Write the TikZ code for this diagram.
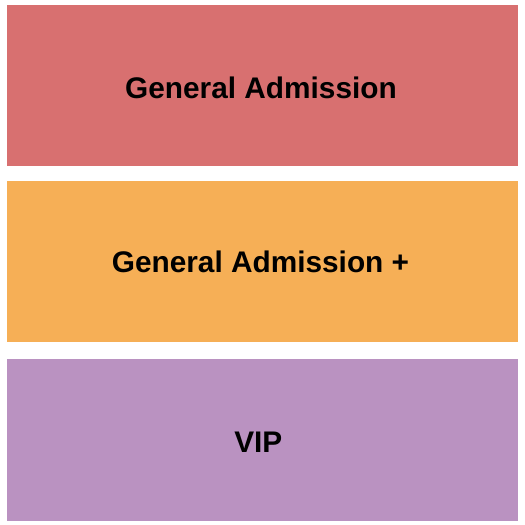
\documentclass[tikz,border=0pt]{standalone}
\usepackage{fontspec}
\setmainfont{Liberation Sans}
\definecolor{gared}{RGB}{216,112,112}
\definecolor{gaplus}{RGB}{246,175,86}
\definecolor{vippurple}{RGB}{186,146,193}
\begin{document}
\begin{tikzpicture}[x=1pt, y=-1pt,
    label/.style={font=\fontsize{29.8}{30}\selectfont\bfseries, text=black, anchor=base, inner sep=0}]
      \useasboundingbox (0,0) rectangle (525,525);
      \fill[white] (0,0) rectangle (525,525);
      \fill[gared] (7,5) rectangle (518,165.5);
      \fill[gaplus] (7,181) rectangle (518,342);
      \fill[vippurple] (7,359) rectangle (518,520.5);
      \node[label] (ga) at (261,98.3) {General Admission};
      \node[label] (gaplus) at (260.5,272.5) {General Admission +};
      \node[label] (vip) at (258.3,452.3) {VIP};
\end{tikzpicture}
\end{document}
